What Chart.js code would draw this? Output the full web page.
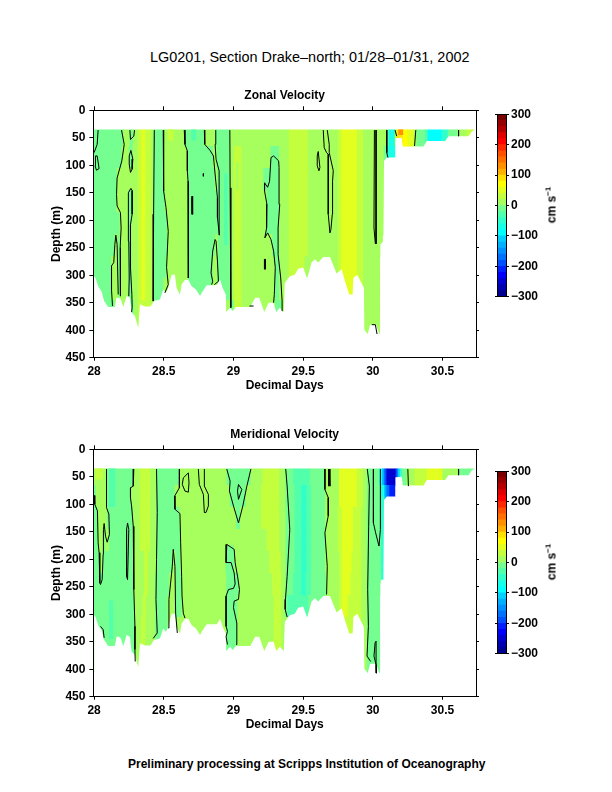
<!DOCTYPE html>
<html>
<head>
<meta charset="utf-8">
<title>LG0201 Section Drake-north</title>
<script src="https://cdn.jsdelivr.net/npm/chart.js@4/dist/chart.umd.min.js"></script>
<style>
  html, body { margin: 0; padding: 0; background: #fff; }
  body { width: 612px; height: 792px; position: relative; overflow: hidden; font-family: "Liberation Sans", sans-serif; color: #000; }
  canvas { position: absolute; left: 0; }
  .label { position: absolute; white-space: nowrap; }
  #mainTitle { left: 150px; top: 49px; font-size: 14.45px; }
  #footer { left: 128px; top: 757px; font-size: 12px; font-weight: bold; }
  .unit { font-size: 12px; font-weight: bold; transform: translate(-50%, -50%) rotate(-90deg); left: 551px; }
  .unit sup { font-size: 8px; }
</style>
</head>
<body>
<div id="mainTitle" class="label">LG0201, Section Drake–north; 01/28–01/31, 2002</div>
<canvas id="zonalChart" width="490" height="312" style="top:81px"></canvas>
<canvas id="zonalBar" width="132" height="210" style="top:101px;left:480px"></canvas>
<div class="label unit" style="top:205px">cm s<sup>−1</sup></div>
<canvas id="meridionalChart" width="490" height="312" style="top:420px"></canvas>
<canvas id="meridionalBar" width="132" height="210" style="top:458px;left:480px"></canvas>
<div class="label unit" style="top:562px">cm s<sup>−1</sup></div>
<div id="footer" class="label">Preliminary processing at Scripps Institution of Oceanography</div>

<script>
// axes
const dayTicks = [28, 28.5, 29, 29.5, 30, 30.5];
const depthTicks = [0, 50, 100, 150, 200, 250, 300, 350, 400, 450];
const speedTicks = [-300, -200, -100, 0, 100, 200, 300];

// colour scale, one entry per 20 cm/s band
const bandValues = [290, 270, 250, 230, 210, 190, 170, 150, 130, 110, 90, 70, 50, 30, 10,
    -10, -30, -50, -70, -90, -110, -130, -150, -170, -190, -210, -230, -250, -270, -290];
const bandColors = ['#780000', '#960000', '#b40000', '#e00000', '#ff0000', '#ff2800', '#ff5000', '#ff7000', '#ff9000', '#ffb000', '#ffe000', '#ffff00', '#e2ff20', '#c4ff3e', '#a6ff5c',
    '#75ff90', '#52ffaa', '#30ffcc', '#18ffe8', '#00ffff', '#00d0ff', '#00b0ff', '#0090ff', '#0070ff', '#0050ff', '#0020ff', '#0000ff', '#0000d0', '#0000b0', '#000090'];

// depth bins of the section (m) and the depth at which each table row starts
const depthRows = [41, 51, 61, 71, 81, 91, 101, 111, 121, 131, 141, 151, 161, 171, 181, 191, 201, 211, 221, 231, 241, 251, 261, 271, 281, 291, 301, 311, 321, 331, 341, 351, 361, 371, 381, 391, 401];
const zoneTops = [36, 70, 110, 150, 190, 230, 270, 310, 350];

// deepest good data along the ship track
const floorDays = [28, 28.012, 28.029, 28.053, 28.072, 28.101, 28.149, 28.161, 28.18, 28.192, 28.209, 28.233, 28.257, 28.269, 28.293, 28.317, 28.329, 28.365, 28.405, 28.429, 28.472, 28.496, 28.516, 28.532, 28.556, 28.58, 28.592, 28.616, 28.628, 28.652, 28.676, 28.7, 28.731, 28.76, 28.772, 28.808, 28.88, 28.904, 28.923, 28.945, 28.947, 28.976, 28.995, 29.017, 29.12, 29.156, 29.185, 29.221, 29.252, 29.288, 29.307, 29.332, 29.361, 29.368, 29.404, 29.44, 29.464, 29.5, 29.529, 29.56, 29.584, 29.608, 29.644, 29.692, 29.74, 29.776, 29.8, 29.831, 29.855, 29.86, 29.888, 29.936, 29.939, 29.963, 29.98, 30.023, 30.047, 30.052, 30.054, 30.076, 30.08, 30.1, 30.159, 30.162, 30.207, 30.215, 30.363, 30.387, 30.519, 30.543, 30.687, 30.711, 30.728, 30.74];
const floorDepths = [302, 306, 320, 329, 347, 358, 358, 341, 341, 344, 358, 338, 341, 368, 374, 396, 353, 357, 357, 347, 344, 326, 332, 323, 299, 299, 323, 335, 317, 308, 308, 320, 326, 338, 332, 318, 318, 308, 323, 335, 367, 359, 365, 358, 358, 341, 341, 367, 350, 350, 367, 359, 367, 314, 302, 299, 288, 286, 306, 277, 271, 277, 267, 267, 297, 289, 311, 335, 335, 305, 299, 323, 399, 407, 390, 390, 407, 407, 244, 238, 92, 86, 86, 51, 50, 66, 66, 56, 56, 47, 47, 38, 36, 36];

// zonal velocity: for each depth zone, the end day of a run and its band value
const zonalEdges = [
    [28.209, 28.257, 28.281, 28.317, 28.341, 28.369, 28.412, 28.429, 28.496, 28.647, 28.791, 28.873, 28.976, 29.399, 29.536, 29.752, 29.776, 29.888, 29.932, 30.1, 30.115, 30.16, 30.173, 30.215, 30.25, 30.295, 30.315, 30.375, 30.395, 30.495, 30.54, 30.61, 30.675, 30.728],
    [28.2, 28.252, 28.278, 28.317, 28.341, 28.369, 28.412, 28.429, 28.496, 28.669, 28.856, 28.88, 28.976, 29.005, 29.06, 29.268, 29.33, 29.399, 29.536, 29.752, 29.776, 29.888, 29.932, 30.08, 30.1, 30.115, 30.16],
    [28.165, 28.317, 28.341, 28.369, 28.412, 28.429, 28.496, 28.676, 28.868, 28.885, 28.976, 29.005, 29.06, 29.216, 29.33, 29.399, 29.536, 29.752, 29.776, 29.888, 29.932, 30.085],
    [28.161, 28.245, 28.28, 28.317, 28.341, 28.369, 28.412, 28.429, 28.51, 28.676, 28.976, 29.005, 29.06, 29.24, 29.33, 29.399, 29.536, 29.752, 29.776, 29.888, 29.932, 30.085],
    [28.185, 28.245, 28.27, 28.317, 28.341, 28.369, 28.412, 28.429, 28.525, 28.676, 28.976, 29.005, 29.06, 29.235, 29.33, 29.399, 29.536, 29.752, 29.776, 29.888, 29.932, 30.085],
    [28.15, 28.17, 28.185, 28.245, 28.27, 28.317, 28.341, 28.369, 28.412, 28.429, 28.527, 28.676, 28.87, 28.89, 28.976, 29.005, 29.06, 29.28, 29.33, 29.399, 29.536, 29.752, 29.776, 29.888, 29.932, 30.07],
    [28.125, 28.173, 28.185, 28.245, 28.27, 28.317, 28.341, 28.369, 28.412, 28.429, 28.518, 28.676, 28.855, 28.885, 28.976, 29.005, 29.06, 29.3, 29.33, 29.399, 29.512, 29.752, 29.776, 29.888, 29.932, 30.05],
    [28.125, 28.173, 28.185, 28.245, 28.27, 28.317, 28.341, 28.369, 28.412, 28.429, 28.5, 28.676, 28.85, 28.885, 28.976, 29.005, 29.06, 29.3, 29.33, 29.399, 29.512, 29.752, 29.776, 29.888, 29.932, 30.05],
    [28.149, 28.25, 28.285, 28.32, 28.412, 28.429, 28.5, 28.976, 29.005, 29.06, 29.3, 29.35, 29.932, 30.05]
];
const zonalBands = [
    [-10, 10, -10, 10, 30, 50, 30, 10, -10, 10, -10, 10, -10, 10, 30, 10, 30, 50, 30, 10, -10, -70, 30, 90, 70, 50, 10, -10, -30, -90, -50, -10, 10, 30],
    [-10, 10, -10, 10, 30, 50, 30, 10, -10, 10, -10, 10, -10, 10, 30, 10, -10, 10, 30, 10, 30, 50, 30, 10, -10, -50, -70],
    [-10, 10, 30, 50, 30, 10, -10, 10, -10, 10, -10, 10, 30, 10, -10, 10, 30, 10, 30, 50, 30, 10],
    [-10, 10, -10, 10, 30, 50, 30, 10, -10, 10, -10, 10, 30, 10, -10, 10, 30, 10, 30, 50, 30, 10],
    [-10, 10, -10, 10, 30, 50, 30, 10, -10, 10, -10, 10, 30, 10, -10, 10, 30, 10, 30, 50, 30, 10],
    [-10, 10, -10, 10, -10, 10, 30, 50, 30, 10, -10, 10, -10, 10, -10, 10, 30, 10, -10, 10, 30, 10, 30, 50, 30, 10],
    [-10, 10, -10, 10, -10, 10, 30, 50, 30, 10, -10, 10, -10, 10, -10, 10, 30, 10, -10, 10, 30, 10, 30, 50, 30, 10],
    [-10, 10, -10, 10, -10, 10, 30, 50, 30, 10, -10, 10, -10, 10, -10, 10, 30, 10, -10, 10, 30, 10, 30, 50, 30, 10],
    [-10, 10, -10, 10, 30, 10, -10, 10, -10, 30, 10, -10, 10, 10]
];
// small features on top of the zones: start day, end day, top, bottom, band
const zonalPatchStart = [28.53, 28.7, 28.935, 29.02, 30.185];
const zonalPatchEnd = [28.568, 28.73, 28.955, 29.035, 30.215];
const zonalPatchTop = [36, 36, 115, 100, 36];
const zonalPatchBottom = [56, 60, 250, 145, 44];
const zonalPatchBand = [30, -30, -30, 10, 130];

const zonalContours = [
    [[28.029, 36], [28.022, 62], [28, 77]],
    [[28.01, 83], [28.022, 83], [28.036, 106], [28.017, 109], [28.007, 101], [28.01, 83]],
    [[28.197, 36], [28.216, 62], [28.199, 92], [28.165, 123], [28.161, 153], [28.165, 174], [28.189, 186], [28.194, 214], [28.187, 250], [28.189, 338]],
    [[28.173, 335], [28.165, 244], [28.156, 227], [28.149, 244], [28.141, 277], [28.125, 283], [28.125, 326], [28.132, 356]],
    [[28.264, 73], [28.278, 89], [28.273, 107], [28.261, 113], [28.252, 98], [28.252, 83], [28.264, 73]],
    [[28.257, 36], [28.261, 53], [28.285, 47], [28.29, 36]],
    [[28.249, 338], [28.252, 305], [28.249, 238], [28.245, 201], [28.247, 150], [28.264, 142], [28.273, 146], [28.273, 189], [28.261, 208], [28.261, 286], [28.271, 335], [28.273, 359], [28.269, 367]],
    [[28.432, 36], [28.427, 189], [28.424, 347]],
    [[28.496, 36], [28.499, 147], [28.516, 177], [28.532, 220], [28.52, 286], [28.532, 317], [28.508, 332]],
    [[28.647, 36], [28.652, 62], [28.669, 74], [28.669, 110], [28.674, 129], [28.676, 305]],
    [[28.791, 36], [28.794, 62], [28.832, 73], [28.856, 83], [28.873, 129], [28.885, 159], [28.885, 195], [28.899, 227], [28.897, 110], [28.875, 89], [28.868, 62], [28.873, 36]],
    [[28.863, 317], [28.892, 311], [28.885, 274], [28.875, 238], [28.868, 235], [28.851, 256], [28.839, 296], [28.851, 311], [28.844, 317]],
    [[28.974, 36], [28.976, 141], [28.981, 359]],
    [[28.784, 115], [28.784, 120]],
    [[28.703, 156], [28.707, 171], [28.707, 189], [28.7, 189], [28.7, 159], [28.703, 156]],
    [[29.351, 365], [29.349, 347], [29.339, 305], [29.32, 262], [29.32, 214], [29.332, 171], [29.327, 104], [29.324, 92], [29.288, 83], [29.269, 86], [29.259, 129], [29.245, 140], [29.223, 132], [29.223, 147], [29.24, 171], [29.24, 189], [29.235, 214], [29.225, 232], [29.245, 223], [29.269, 235], [29.288, 256], [29.3, 286], [29.293, 335], [29.288, 350]],
    [[29.222, 271], [29.228, 271], [29.228, 289], [29.222, 289], [29.222, 271]],
    [[29.115, 356], [29.144, 356]],
    [[29.644, 36], [29.651, 68], [29.668, 77], [29.68, 80], [29.68, 135], [29.68, 189], [29.692, 223], [29.699, 217], [29.709, 189], [29.711, 129], [29.716, 110], [29.687, 77], [29.687, 62], [29.673, 36]],
    [[29.608, 75], [29.62, 104], [29.613, 110], [29.601, 101], [29.601, 83], [29.608, 75]],
    [[30.011, 36], [30.008, 214], [30.018, 243]],
    [[30.023, 36], [30.023, 214], [30.023, 243]],
    [[29.992, 390], [30.018, 390], [30.03, 407]],
    [[30.1, 36], [30.1, 77], [30.108, 86]],
    [[30.159, 36], [30.171, 47]],
    [[30.308, 36], [30.299, 65]],
    [[30.615, 36], [30.615, 47]]
];

// meridional velocity
const meridionalEdges = [
    [28.089, 28.281, 28.33, 28.405, 28.448, 28.611, 28.952, 29.125, 29.21, 29.33, 29.375, 29.43, 29.55, 29.66, 29.76, 29.888, 29.93, 29.96, 30.05, 30.07, 30.085, 30.1, 30.166, 30.18, 30.195, 30.21, 30.245, 30.3, 30.39, 30.5, 30.61, 30.728],
    [28.015, 28.089, 28.27, 28.33, 28.405, 28.448, 28.58, 28.976, 29.09, 29.2, 29.33, 29.375, 29.44, 29.49, 29.525, 29.56, 29.66, 29.76, 29.888, 29.93, 29.96, 30.06, 30.085, 30.1, 30.12, 30.16],
    [28.03, 28.095, 28.28, 28.33, 28.405, 28.448, 28.615, 29.02, 29.05, 29.2, 29.33, 29.375, 29.44, 29.49, 29.525, 29.56, 29.66, 29.75, 29.78, 29.86, 29.92, 29.96, 30.055, 30.08],
    [28.03, 28.065, 28.08, 28.108, 28.28, 28.33, 28.405, 28.448, 28.62, 29.24, 29.33, 29.375, 29.44, 29.49, 29.525, 29.56, 29.66, 29.75, 29.78, 29.86, 29.92, 29.96, 30.08],
    [28.04, 28.06, 28.28, 28.36, 28.39, 28.448, 28.565, 28.585, 28.62, 28.945, 29.01, 29.26, 29.34, 29.375, 29.44, 29.49, 29.525, 29.56, 29.66, 29.76, 29.78, 29.85, 29.92, 29.96, 30.07],
    [28.285, 28.36, 28.39, 28.44, 28.54, 28.585, 28.63, 28.95, 29.04, 29.28, 29.345, 29.375, 29.43, 29.49, 29.52, 29.56, 29.665, 29.76, 29.78, 29.84, 29.92, 29.96, 30.055],
    [28.29, 28.35, 28.375, 28.44, 28.53, 28.58, 28.63, 28.95, 29.03, 29.29, 29.345, 29.37, 29.39, 29.54, 29.66, 29.76, 29.78, 29.82, 29.92, 29.96, 30.05],
    [28.295, 28.34, 28.37, 28.44, 28.53, 28.6, 28.95, 29.03, 29.29, 29.345, 29.36, 29.76, 29.92, 29.96, 30.05],
    [28.295, 28.34, 28.37, 28.44, 28.53, 28.95, 29.03, 29.29, 29.345, 29.96, 30.05]
];
const meridionalBands = [
    [10, -10, 10, 30, 10, -10, 10, -10, 10, 30, 10, -10, -30, -10, 10, 50, 30, 10, -10, -90, -130, -190, -250, -190, -110, -50, -10, 10, 30, 50, 10, -10],
    [-10, 10, -10, 10, 30, 10, -10, 10, -10, 10, 30, 10, -10, -30, -50, -30, -10, 10, 50, 30, 10, -10, -70, -130, -170, -210],
    [-10, 10, -10, 10, 30, 10, -10, 10, -10, 10, 30, 10, -10, -30, -50, -30, -10, 10, 30, 50, 30, 10, -10, -50],
    [-10, 10, -10, 10, -10, 10, 30, 10, -10, 10, 30, 10, -10, -30, -50, -30, -10, 10, 30, 50, 30, 10, -10],
    [-10, 10, -10, 10, 30, 10, -10, 10, -10, 10, -10, 10, 30, 10, -10, -30, -50, -30, -10, 10, 30, 50, 30, 10, -10],
    [-10, 10, 30, 10, -10, 10, -10, 10, -10, 10, 30, 10, -10, -30, -50, -30, -10, 10, 30, 50, 30, 10, -10],
    [-10, 10, 30, 10, -10, 10, -10, 10, -10, 10, 30, 10, -10, -30, -10, 10, 30, 50, 30, 10, -10],
    [-10, 10, 30, 10, -10, 10, 10, -10, 10, 30, 10, 10, 30, 10, -10],
    [-10, 10, 30, 10, -10, 10, -10, 10, 30, 10, -10]
];
const meridionalPatchStart = [28.01, 28.11, 28.11, 28.945, 30.06];
const meridionalPatchEnd = [28.06, 28.15, 28.135, 29, 30.08];
const meridionalPatchTop = [36, 36, 280, 173, 90];
const meridionalPatchBottom = [52, 110, 345, 190, 240];
const meridionalPatchBand = [30, -30, -30, -10, -50];

const meridionalContours = [
    [[28, 84], [28.005, 100], [28.024, 112], [28.029, 170], [28.036, 188], [28.041, 243], [28.046, 246], [28.058, 237], [28.065, 191], [28.067, 146], [28.072, 135], [28.082, 158], [28.094, 169], [28.11, 155], [28.106, 118], [28.089, 106], [28.089, 36]],
    [[28.046, 322], [28.065, 328], [28.072, 343]],
    [[28.285, 36], [28.281, 67], [28.261, 70], [28.261, 88], [28.269, 103], [28.281, 140], [28.285, 255], [28.293, 322], [28.293, 364], [28.295, 386]],
    [[28.24, 134], [28.233, 146], [28.233, 231], [28.24, 237], [28.249, 146], [28.24, 134]],
    [[28.448, 36], [28.453, 115], [28.448, 200], [28.444, 273], [28.453, 334], [28.424, 344]],
    [[28.612, 36], [28.612, 70], [28.578, 85], [28.58, 109], [28.616, 117], [28.621, 170], [28.628, 231], [28.631, 267], [28.64, 298], [28.652, 307]],
    [[28.532, 325], [28.537, 273], [28.561, 213], [28.568, 182], [28.58, 213], [28.585, 298], [28.597, 334]],
    [[28.676, 43], [28.681, 61], [28.676, 78], [28.652, 76], [28.633, 64], [28.64, 52], [28.676, 43]],
    [[28.748, 36], [28.755, 64], [28.784, 82], [28.791, 115], [28.803, 115], [28.82, 103], [28.82, 82], [28.791, 67], [28.791, 36]],
    [[28.952, 36], [28.976, 58], [28.971, 76], [29, 103], [29.036, 134], [29.067, 103], [29.096, 67], [29.125, 36]],
    [[29.036, 64], [29.06, 73], [29.036, 91], [29.029, 76], [29.036, 64]],
    [[29.019, 355], [29.024, 316], [29, 288], [29.005, 276], [29.036, 273], [29.043, 255], [29.031, 234], [29.012, 206], [29.005, 182], [28.952, 173], [28.947, 206], [28.983, 206], [29.005, 225], [29.012, 245], [29, 253], [28.964, 255], [28.947, 267], [28.947, 322], [28.957, 331], [28.947, 341], [28.957, 355]],
    [[29.375, 36], [29.385, 67], [29.404, 146], [29.385, 231], [29.373, 273], [29.371, 291], [29.385, 305]],
    [[29.656, 36], [29.656, 73], [29.68, 88], [29.68, 121], [29.656, 152], [29.673, 213], [29.668, 264]],
    [[29.683, 36], [29.683, 67]],
    [[29.687, 36], [29.692, 67]],
    [[29.96, 36], [29.975, 67], [29.97, 140], [29.963, 255], [29.968, 322], [29.958, 376], [29.984, 386]],
    [[30.004, 36], [30.004, 134], [30.02, 152], [30.044, 176], [30.054, 146], [30.054, 36]],
    [[30.028, 407], [30.023, 349], [30.016, 352], [30.008, 376], [30.023, 392], [30.025, 407]],
    [[30.251, 36], [30.255, 67]],
    [[30.615, 36], [30.615, 47]]
];

const tickFont = { family: 'Liberation Sans', size: 12, weight: 'bold' };

function fixedTicks(values) {
    return scale => { scale.ticks = values.map(value => ({ value })); };
}

function colorOf(band) {
    return bandColors[bandValues.indexOf(band)];
}

// one floating bar per run per depth bin
function buildCells(edges, bands, pStart, pEnd, pTop, pBottom, pBand) {
    const cells = [];
    const colors = [];
    depthRows.forEach(row => {
        let zone = 0;
        zoneTops.forEach((top, i) => { if (row >= top) zone = i; });
        let start = 28;
        edges[zone].forEach((end, i) => {
            cells.push({ y: row, x: [start, end] });
            colors.push(colorOf(bands[zone][i]));
            start = end;
        });
        pStart.forEach((s, i) => {
            if (row >= pTop[i] && row <= pBottom[i]) {
                cells.push({ y: row, x: [s, pEnd[i]] });
                colors.push(colorOf(pBand[i]));
            }
        });
    });
    return { cells, colors };
}

function drawSection(id, title, edges, bands, pStart, pEnd, pTop, pBottom, pBand, contours) {
    const { cells, colors } = buildCells(edges, bands, pStart, pEnd, pTop, pBottom, pBand);
    const datasets = [{
        type: 'bar',
        indexAxis: 'y',
        order: 3,
        data: cells,
        backgroundColor: colors,
        barThickness: 6,
        grouped: false
    }, {
        type: 'line',
        order: 2,
        data: floorDays.map((d, i) => ({ x: d, y: floorDepths[i] })),
        borderWidth: 0,
        pointRadius: 0,
        backgroundColor: '#ffffff',
        fill: { value: 450 }
    }];
    contours.forEach(line => {
        datasets.push({
            type: 'line',
            order: 1,
            data: line.map(p => ({ x: p[0], y: p[1] })),
            borderColor: '#000000',
            borderWidth: 1,
            pointRadius: 0,
            fill: false
        });
    });
    return new Chart(document.getElementById(id), {
        type: 'bar',
        data: { datasets },
        options: {
            responsive: false,
            animation: false,
            events: [],
            plugins: {
                legend: { display: false },
                tooltip: { enabled: false },
                title: {
                    display: true,
                    text: title,
                    fullSize: false,
                    color: '#000',
                    font: tickFont,
                    padding: { top: 7.8, bottom: 3.1 }
                }
            },
            scales: {
                x: {
                    type: 'linear', position: 'bottom', min: 27.995, max: 30.74, offset: false, beginAtZero: false,
                    afterBuildTicks: fixedTicks(dayTicks),
                    afterFit: s => { s.height = 35.3; },
                    border: { color: '#000', z: 1 },
                    grid: { drawOnChartArea: false, color: '#000', tickLength: 3, offset: false },
                    ticks: { color: '#000', font: tickFont, padding: 4, maxRotation: 0, autoSkip: false, callback: v => String(v) },
                    title: { display: true, text: 'Decimal Days', color: '#000', font: tickFont, padding: 0 }
                },
                x2: {
                    type: 'linear', axis: 'x', position: 'top', min: 27.995, max: 30.74, offset: false, beginAtZero: false,
                    afterBuildTicks: fixedTicks(dayTicks),
                    afterFit: s => { s.height = 4; },
                    border: { color: '#000', z: 1 },
                    grid: { drawOnChartArea: false, color: '#000', tickLength: 4, offset: false },
                    ticks: { display: false, autoSkip: false }
                },
                y: {
                    type: 'linear', position: 'left', reverse: true, min: 0, max: 450, offset: false, beginAtZero: false,
                    afterBuildTicks: fixedTicks(depthTicks),
                    afterFit: s => { s.width = 93.4; },
                    border: { color: '#000', z: 1 },
                    grid: { drawOnChartArea: false, color: '#000', tickLength: 4, offset: false },
                    ticks: { color: '#000', font: tickFont, padding: 4, autoSkip: false, callback: v => String(v) },
                    title: { display: true, text: 'Depth (m)', color: '#000', font: tickFont, padding: { top: 49, bottom: 0 } }
                },
                y2: {
                    type: 'linear', axis: 'y', position: 'right', reverse: true, min: 0, max: 450, offset: false, beginAtZero: false,
                    afterBuildTicks: fixedTicks(depthTicks),
                    afterFit: s => { s.width = 14; },
                    border: { color: '#000', z: 1 },
                    grid: { drawOnChartArea: false, color: '#000', tickLength: 3, offset: false },
                    ticks: { display: false, autoSkip: false }
                }
            }
        }
    });
}

function drawColorBar(id) {
    const cells = bandValues.map(v => ({ y: v, x: [0, 1] }));
    return new Chart(document.getElementById(id), {
        type: 'bar',
        data: {
            datasets: [{
                indexAxis: 'y',
                data: cells,
                backgroundColor: bandColors,
                barThickness: 6.1,
                grouped: false
            }]
        },
        options: {
            responsive: false,
            animation: false,
            events: [],
            layout: { padding: { top: 13.3, bottom: 14.3 } },
            plugins: { legend: { display: false }, tooltip: { enabled: false } },
            scales: {
                x: {
                    type: 'linear', position: 'bottom', min: 0, max: 1, offset: false,
                    afterFit: s => { s.height = 0; },
                    border: { color: '#000', z: 1 },
                    grid: { display: false, offset: false },
                    ticks: { display: false }
                },
                x2: {
                    type: 'linear', axis: 'x', position: 'top', min: 0, max: 1, offset: false,
                    afterFit: s => { s.height = 0; },
                    border: { color: '#000', z: 1 },
                    grid: { display: false, offset: false },
                    ticks: { display: false }
                },
                y: {
                    type: 'linear', position: 'right', min: -300, max: 300, offset: false, beginAtZero: false,
                    afterBuildTicks: fixedTicks(speedTicks),
                    afterFit: s => { s.width = 106; },
                    border: { color: '#000', z: 1 },
                    grid: { drawOnChartArea: false, color: '#000', tickLength: 3, offset: false },
                    ticks: { color: '#000', font: tickFont, padding: 2, autoSkip: false, callback: v => (v < 0 ? '−' + (-v) : String(v)) }
                },
                y2: {
                    type: 'linear', axis: 'y', position: 'left', min: -300, max: 300, offset: false, beginAtZero: false,
                    afterBuildTicks: fixedTicks(speedTicks),
                    afterFit: s => { s.width = 17; },
                    border: { color: '#000', z: 1 },
                    grid: { drawOnChartArea: false, color: '#000', tickLength: 2, offset: false },
                    ticks: { display: false, autoSkip: false }
                }
            }
        }
    });
}

drawSection('zonalChart', 'Zonal Velocity', zonalEdges, zonalBands, zonalPatchStart, zonalPatchEnd, zonalPatchTop, zonalPatchBottom, zonalPatchBand, zonalContours);
drawSection('meridionalChart', 'Meridional Velocity', meridionalEdges, meridionalBands, meridionalPatchStart, meridionalPatchEnd, meridionalPatchTop, meridionalPatchBottom, meridionalPatchBand, meridionalContours);
drawColorBar('zonalBar');
drawColorBar('meridionalBar');
</script>
</body>
</html>
